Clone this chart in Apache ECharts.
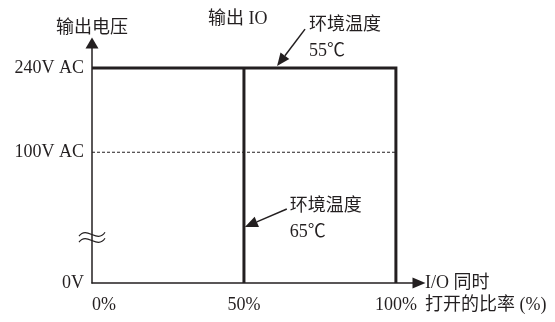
<!DOCTYPE html>
<html>
<head>
<meta charset="utf-8">
<script src="https://cdn.jsdelivr.net/npm/echarts@6/dist/echarts.min.js"></script>
<style>
html, body { margin: 0; padding: 0; background: #fff; }
#chart { width: 555px; height: 322px; }
</style>
</head>
<body>
<div id="chart"></div>
<script>
// x: I/O 同时打开的比率 (%)
const xTicks = [0, 50, 100]
const xTickLabels = ['0%', '50%', '100%']
// y: 输出电压 (broken axis, positions on the drawn scale)
const yTicks = [0, 146, 240]
const yTickLabels = ['0V', '100V AC', '240V AC']
const yBreak = 50

// 环境温度 55℃ limit: 240V up to 100%
const limit55X = [0, 100, 100]
const limit55Y = [240, 240, 0]
// 环境温度 65℃ limit: 50%
const limit65X = [50, 50]
const limit65Y = [240, 0]
// 100V AC reference
const refX = [0, 100]
const refY = [146, 146]

const ink = '#231f20'
const font = "'Liberation Serif', 'Noto Sans CJK SC', serif"

function pairs(xs, ys) {
    return xs.map((x, i) => [x, ys[i]])
}

let chart = echarts.init(document.getElementById('chart'))
let option = {
    animation: false,
    title: {
        text: '输出 IO',
        left: 208,
        top: 10,
        padding: 0,
        textStyle: { fontFamily: font, fontSize: 18, fontWeight: 'normal', color: ink }
    },
    grid: {
        left: 92,
        right: 136,
        top: 43,
        bottom: 39
    },
    xAxis: {
        type: 'value',
        min: 0,
        max: 107.6,
        axisLine: {
            show: true,
            symbol: ['none', 'triangle'],
            symbolSize: [11, 13],
            lineStyle: { color: ink, width: 1.5 }
        },
        axisTick: { show: false },
        splitLine: { show: false },
        axisLabel: {
            customValues: xTicks,
            margin: 13,
            alignMinLabel: 'left',
            fontFamily: font,
            fontSize: 18,
            color: ink,
            formatter: v => xTickLabels[xTicks.indexOf(v)] || ''
        }
    },
    yAxis: {
        type: 'value',
        min: 0,
        max: 268,
        name: '输出电压',
        nameLocation: 'end',
        nameGap: 6,
        nameTextStyle: { fontFamily: font, fontSize: 18, color: ink },
        axisLine: {
            show: true,
            symbol: ['none', 'triangle'],
            symbolSize: [13, 11],
            lineStyle: { color: ink, width: 1.5 }
        },
        axisTick: { show: false },
        splitLine: { show: false },
        axisLabel: {
            customValues: yTicks,
            margin: 8,
            fontFamily: font,
            fontSize: 18,
            color: ink,
            formatter: v => yTickLabels[yTicks.indexOf(v)] || ''
        }
    },
    series: [
        {
            type: 'line',
            data: pairs(refX, refY),
            symbol: 'none',
            lineStyle: { color: ink, width: 1, type: [3, 2] }
        },
        {
            type: 'line',
            data: pairs(limit55X, limit55Y),
            symbol: 'none',
            lineStyle: { color: ink, width: 3, join: 'miter', cap: 'butt' }
        },
        {
            type: 'line',
            data: pairs(limit65X, limit65Y),
            symbol: 'none',
            lineStyle: { color: ink, width: 3, cap: 'butt' }
        }
    ]
}
chart.setOption(option)

// annotations, placed in axis coordinates
function px(p) {
    return chart.convertToPixel({ gridIndex: 0 }, p)
}

function arrow(from, to) {
    let a = px(from), b = px(to)
    let dx = b[0] - a[0], dy = b[1] - a[1]
    let len = Math.sqrt(dx * dx + dy * dy)
    let ux = dx / len, uy = dy / len
    let headLen = 13, half = 5.5
    let bx = b[0] - ux * headLen, by = b[1] - uy * headLen
    return [
        {
            type: 'line',
            shape: { x1: a[0], y1: a[1], x2: bx, y2: by },
            style: { stroke: ink, lineWidth: 1.5 }
        },
        {
            type: 'polygon',
            shape: { points: [[b[0], b[1]], [bx - uy * half, by + ux * half], [bx + uy * half, by - ux * half]] },
            style: { fill: ink }
        }
    ]
}

function note(at, text) {
    let p = px(at)
    return {
        type: 'text',
        x: p[0],
        y: p[1],
        style: {
            text: text,
            fontFamily: font,
            fontSize: 18,
            lineHeight: 26,
            fill: ink,
            align: 'left',
            verticalAlign: 'top'
        }
    }
}

function breakMark(at) {
    let p = px(at)
    let cx = p[0], cy = p[1]
    return [-3, 3].map(off => ({
        type: 'bezierCurve',
        shape: {
            x1: cx - 13, y1: cy + off + 1,
            cpx1: cx - 5, cpy1: cy + off - 10,
            cpx2: cx + 5, cpy2: cy + off + 9,
            x2: cx + 13, y2: cy + off - 3
        },
        style: { stroke: ink, lineWidth: 1.2, fill: null }
    }))
}

let xEnd = px([107.6, 0])
let graphics = []
    .concat(arrow([70.1, 283.5], [60.9, 242.2]))
    .concat(arrow([64.1, 82.6], [50.3, 62.5]))
    .concat([
        note([71.4, 302], '环境温度\n55℃'),
        note([65.1, 100], '环境温度\n65℃')
    ])
    .concat(breakMark([0, yBreak]))
    .concat([{
        type: 'text',
        x: xEnd[0] + 6,
        y: xEnd[1] - 11,
        style: {
            text: 'I/O 同时\n打开的比率 (%)',
            fontFamily: font,
            fontSize: 18,
            lineHeight: 22,
            fill: ink,
            align: 'left',
            verticalAlign: 'top'
        }
    }])

chart.setOption({ graphic: graphics })

window.addEventListener('resize', () => {
    chart.resize()
})
</script>
</body>
</html>
